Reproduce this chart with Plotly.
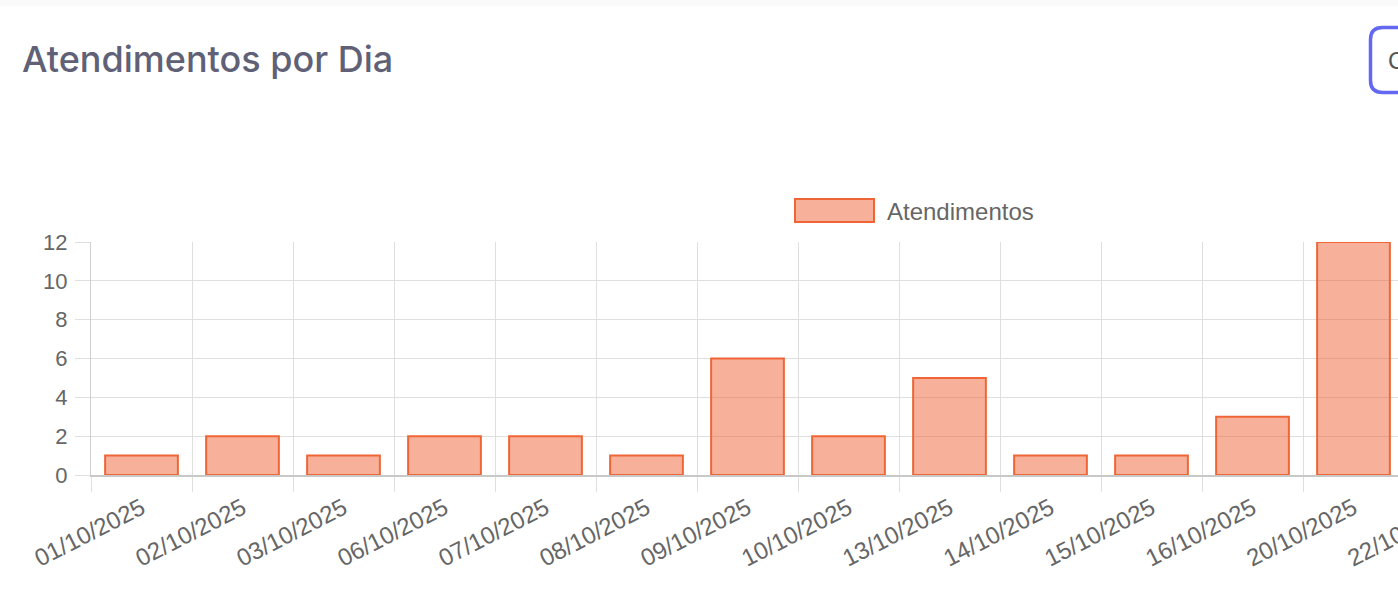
import plotly.graph_objects as go

# ---- data ----
dates = ["01/10/2025", "02/10/2025", "03/10/2025", "06/10/2025", "07/10/2025",
         "08/10/2025", "09/10/2025", "10/10/2025", "13/10/2025", "14/10/2025",
         "15/10/2025", "16/10/2025", "20/10/2025", "22/10/2025"]
atendimentos = [1, 2, 1, 2, 2, 1, 6, 2, 5, 1, 1, 3, 12, None]  # last bar is cut off in the reference
series_name = "Atendimentos"
title_text = "Atendimentos por Dia"
button_text = "C"
y_ticks = [0, 2, 4, 6, 8, 10, 12]

# ---- geometry (pixels) ----
FIG_W, FIG_H = 1500, 612
L, R, T, B = 91, 0, 242, 137
PW = FIG_W - L - R
PH = FIG_H - T - B

def px(x):
    return (x - L) / PW

def py(y):
    return (FIG_H - B - y) / PH

BAR_FILL = "rgba(240,100,55,0.5)"
BAR_LINE = "#ef6536"
GRID = "#dfdfdf"
FONT_FAMILY = "Liberation Sans, Arial, Helvetica, sans-serif"
Y_TICK_FONT = dict(family=FONT_FAMILY, size=22, color="#666666")
X_TICK_FONT = dict(family=FONT_FAMILY, size=24, color="#666666")

cat_px = 101.0
n_visible = PW / cat_px

fig = go.Figure()
fig.add_trace(go.Bar(
    x=dates, y=atendimentos, name=series_name, width=0.72,
    marker=dict(color=BAR_FILL, line=dict(color=BAR_LINE, width=2)),
    showlegend=False,
))

def rounded_rect(x0, y0, x1, y1, r):
    pts = [
        f"M {px(x0 + r)} {py(y0)}",
        f"L {px(x1 - r)} {py(y0)}",
        f"Q {px(x1)} {py(y0)} {px(x1)} {py(y0 + r)}",
        f"L {px(x1)} {py(y1 - r)}",
        f"Q {px(x1)} {py(y1)} {px(x1 - r)} {py(y1)}",
        f"L {px(x0 + r)} {py(y1)}",
        f"Q {px(x0)} {py(y1)} {px(x0)} {py(y1 - r)}",
        f"L {px(x0)} {py(y0 + r)}",
        f"Q {px(x0)} {py(y0)} {px(x0 + r)} {py(y0)}",
        "Z",
    ]
    return " ".join(pts)

shapes = [
    dict(type="rect", xref="paper", yref="paper", x0=px(0), x1=px(FIG_W), y0=py(0), y1=py(6),
         fillcolor="#fafafb", line=dict(width=0), layer="below"),
    dict(type="rect", xref="paper", yref="paper", x0=px(795), x1=px(874), y0=py(222), y1=py(199),
         fillcolor=BAR_FILL, line=dict(color=BAR_LINE, width=2)),
    dict(type="path", xref="paper", yref="paper", path=rounded_rect(1370.5, 27.5, 1480, 92.5, 12),
         line=dict(color="#6468f0", width=3.5), fillcolor="rgba(0,0,0,0)"),
]

annotations = [
    dict(text=series_name, xref="paper", yref="paper", x=px(885), y=py(211),
         xanchor="left", yanchor="middle", showarrow=False,
         font=dict(family=FONT_FAMILY, size=24, color="#666666")),
    dict(text=button_text, xref="paper", yref="paper", x=px(1386), y=py(60),
         xanchor="left", yanchor="middle", showarrow=False,
         font=dict(family=FONT_FAMILY, size=24, color="#555555")),
]

fig.update_layout(
    width=FIG_W, height=FIG_H, autosize=False,
    margin=dict(l=L, r=R, t=T, b=B, pad=0),
    paper_bgcolor="white", plot_bgcolor="white",
    title=dict(text=title_text, xref="container", yref="container",
               x=22 / FIG_W, y=1 - 59 / FIG_H, xanchor="left", yanchor="middle",
               font=dict(family="Inter, Noto Sans, sans-serif", size=36, color="#606176", weight=500)),
    shapes=shapes,
    annotations=annotations,
    showlegend=False,
)

fig.update_xaxes(
    type="category", range=[-0.5, -0.5 + n_visible],
    tickson="boundaries", showgrid=True, gridcolor=GRID, gridwidth=1,
    ticks="outside", ticklen=15, tickcolor=GRID, tickwidth=1,
    tickangle=-27, tickfont=X_TICK_FONT, ticklabelstandoff=8,
    showline=True, linecolor="#c8c8c8", linewidth=2,
    zeroline=False, fixedrange=True,
)
fig.update_yaxes(
    range=[0, 12], tickvals=y_ticks, showgrid=True, gridcolor=GRID, gridwidth=1,
    ticks="outside", ticklen=15, tickcolor=GRID, tickwidth=1,
    tickfont=Y_TICK_FONT, ticklabelstandoff=3,
    showline=True, linecolor="#cfcfcf", linewidth=1,
    zeroline=False, fixedrange=True,
)

fig.write_html(
    "out.html",
    config={"displayModeBar": False},
    post_script="document.body.style.margin='0';document.body.style.overflow='hidden';document.documentElement.style.overflow='hidden';",
)
